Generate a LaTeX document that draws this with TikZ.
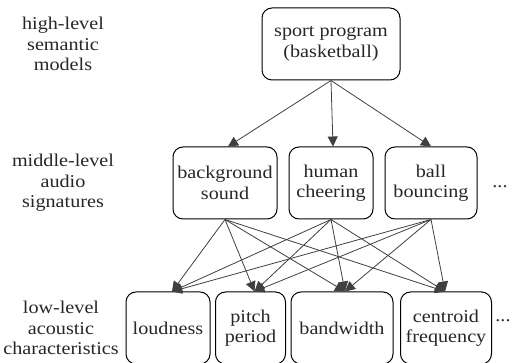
\documentclass[tikz,border=0pt]{standalone}
\usepackage{fontspec}
\setmainfont{Liberation Serif}[FakeStretch=1.12]
\usetikzlibrary{arrows.meta}
\begin{document}
\begin{tikzpicture}[x=1pt,y=-1pt,
  every node/.style={font=\fontsize{18}{20.5}\selectfont, align=center, inner sep=0pt, text=black!85},
  box/.style={draw=black, line width=1pt, rounded corners=10pt},
  link/.style={draw=black!75, line width=0.8pt, -{Triangle[length=10pt,width=10pt]}},
  tier/.style={}]
\useasboundingbox (0,0) rectangle (525,363);

% level captions on the left
\node[tier] (cap1) at (63,44) {high-level\\semantic\\models};
\node[tier] (cap2) at (63,183) {middle-level\\audio\\signatures};
\node[tier] (cap3) at (61,328) {low-level\\acoustic\\characteristics};

% top level
\node[box, minimum width=138pt, minimum height=72pt] (top) at (331,44) {sport program\\(basketball)};

% middle level
\node[box, minimum width=104pt, minimum height=72pt] (m1) at (225,183) {background\\sound};
\node[box, minimum width=84pt, minimum height=72pt] (m2) at (331,183) {human\\cheering};
\node[box, minimum width=92pt, minimum height=72pt] (m3) at (431,183) {ball\\bouncing};
\node (mdots) at (500,187) {...};

% low level
\node[box, minimum width=84pt, minimum height=72pt] (b1) at (168,328) {loudness};
\node[box, minimum width=70pt, minimum height=72pt] (b2) at (250.5,328) {pitch\\period};
\node[box, minimum width=102pt, minimum height=72pt] (b3) at (342,328) {bandwidth};
\node[box, minimum width=91pt, minimum height=72pt] (b4) at (446,328) {centroid\\frequency};
\node (bdots) at (503,321) {...};

% arrow targets on the lower boxes
\coordinate (t1) at ([xshift=4pt]b1.north);
\coordinate (t2) at ([xshift=4pt]b2.north);
\coordinate (t3) at ([xshift=3pt]b3.north);
\coordinate (t4) at ([xshift=-1pt]b4.north);

% top to middle
\draw[link] (top.south) -- ([xshift=3pt]m1.north);
\draw[link] (top.south) -- ([xshift=2pt]m2.north);
\draw[link] (top.south) -- (m3.north);

% middle to low
\foreach \s in {m1,m2,m3}{
  \foreach \t in {t1,t2,t3,t4}{
    \draw[link] (\s.south) -- (\t);
  }
}
\end{tikzpicture}
\end{document}
